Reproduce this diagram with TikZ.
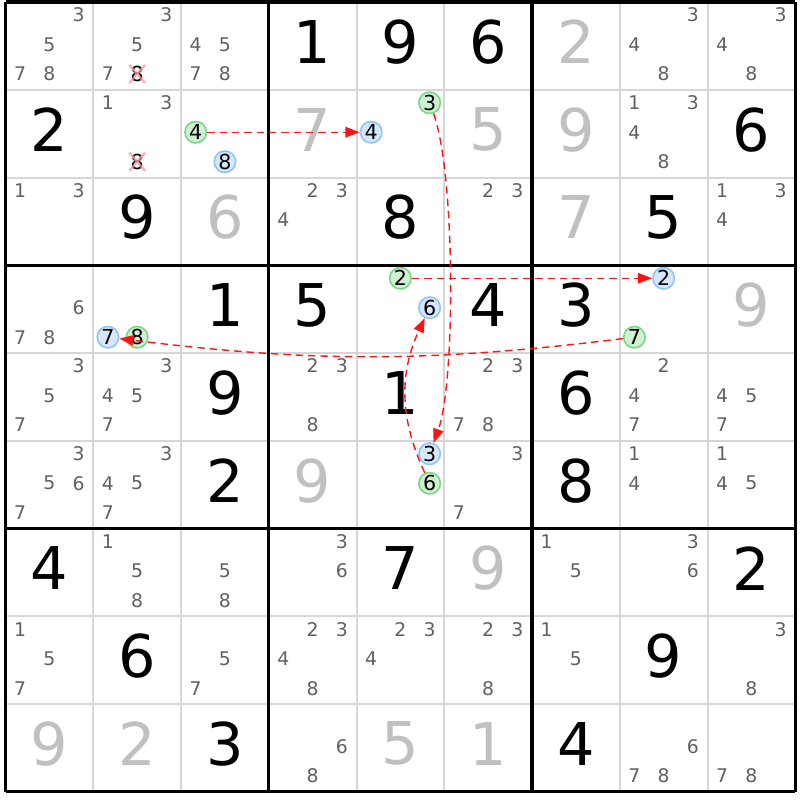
\documentclass[tikz,border=0pt]{standalone}
\usepackage{fontspec}
\setmainfont{DejaVu Sans}
\usetikzlibrary{arrows.meta}
\definecolor{candgray}{RGB}{96,96,96}
\definecolor{solvedgray}{RGB}{192,192,192}
\definecolor{thingray}{RGB}{214,214,214}
\definecolor{greenfill}{RGB}{208,240,210}
\definecolor{greenline}{RGB}{118,214,132}
\definecolor{bluefill}{RGB}{212,231,252}
\definecolor{blueline}{RGB}{140,196,246}
\definecolor{crossred}{RGB}{244,150,165}
\definecolor{linkred}{RGB}{250,20,20}
\tikzset{
	clue/.style     = {inner sep=0pt, font=\fontsize{19.1}{20}\selectfont},
	solved/.style   = {clue, text=solvedgray},
	cand/.style     = {inner sep=0pt, text=candgray, font=\fontsize{6.1}{7}\selectfont},
	oncand/.style   = {circle, inner sep=0pt, minimum size=0.245cm, draw=greenline,
		fill=greenfill, line width=0.5pt, font=\fontsize{6.7}{7}\selectfont},
	offcand/.style  = {oncand, draw=blueline, fill=bluefill},
	elim/.style     = {inner sep=0.2pt, font=\fontsize{6.7}{7}\selectfont},
	crossline/.style= {draw=crossred, line width=0.75pt, opacity=0.8},
	link/.style     = {draw=linkred, line width=0.45pt, dash pattern=on 2.4pt off 1.6pt,
		-{Triangle[length=4.6pt,width=3.4pt]}},
	thinline/.style = {draw=thingray, line width=0.65pt},
	boxline/.style  = {draw=black, line width=1pt}
}
% position of candidate #3 in cell (#1,#2)
\newcommand{\candpos}[3]{%
	\pgfmathsetmacro{\px}{#2-0.5+(mod(#3-1,3)-1)*0.333}%
	\pgfmathsetmacro{\py}{-(#1-0.5)-(floor((#3-1)/3)-1)*0.336+0.016}}
\newcommand{\pencilmark}[4]{\candpos{#2}{#3}{#4}\node[#1] (p#2#3#4) at (\px,\py) {#4};}
\newcommand{\pencil}[3]{\foreach \dig in {#3}{\pencilmark{cand}{#1}{#2}{\dig}}}
\newcommand{\clue}[3]{\node[clue] (d#1#2) at (#2-0.5,0.545-#1) {#3};}
\newcommand{\solved}[3]{\node[solved] (d#1#2) at (#2-0.5,0.545-#1) {#3};}
\newcommand{\strike}[1]{\draw[crossline] (#1.south west) -- (#1.north east) (#1.north west) -- (#1.south east);}

\begin{document}
\begin{tikzpicture}
	\useasboundingbox (-0.063,0.023) rectangle (9.054,-9.094);
	
	\foreach \i in {1,2,4,5,7,8}{
		\draw[thinline] (\i,0) -- (\i,-9);
		\draw[thinline] (0,-\i) -- (9,-\i);
	}
	
	% row 1
	\pencil{1}{1}{3,5,7,8}
	\pencil{1}{2}{3,5,7}
	\pencilmark{elim}{1}{2}{8}
	\pencil{1}{3}{4,5,7,8}
	\clue{1}{4}{1}
	\clue{1}{5}{9}
	\clue{1}{6}{6}
	\solved{1}{7}{2}
	\pencil{1}{8}{3,4,8}
	\pencil{1}{9}{3,4,8}
	% row 2
	\clue{2}{1}{2}
	\pencil{2}{2}{1,3}
	\pencilmark{elim}{2}{2}{8}
	\pencilmark{oncand}{2}{3}{4}
	\pencilmark{offcand}{2}{3}{8}
	\solved{2}{4}{7}
	\pencilmark{oncand}{2}{5}{3}
	\pencilmark{offcand}{2}{5}{4}
	\solved{2}{6}{5}
	\solved{2}{7}{9}
	\pencil{2}{8}{1,3,4,8}
	\clue{2}{9}{6}
	% row 3
	\pencil{3}{1}{1,3}
	\clue{3}{2}{9}
	\solved{3}{3}{6}
	\pencil{3}{4}{2,3,4}
	\clue{3}{5}{8}
	\pencil{3}{6}{2,3}
	\solved{3}{7}{7}
	\clue{3}{8}{5}
	\pencil{3}{9}{1,3,4}
	% row 4
	\pencil{4}{1}{6,7,8}
	\pencilmark{offcand}{4}{2}{7}
	\pencilmark{oncand}{4}{2}{8}
	\clue{4}{3}{1}
	\clue{4}{4}{5}
	\pencilmark{oncand}{4}{5}{2}
	\pencilmark{offcand}{4}{5}{6}
	\clue{4}{6}{4}
	\clue{4}{7}{3}
	\pencilmark{offcand}{4}{8}{2}
	\pencilmark{oncand}{4}{8}{7}
	\solved{4}{9}{9}
	% row 5
	\pencil{5}{1}{3,5,7}
	\pencil{5}{2}{3,4,5,7}
	\clue{5}{3}{9}
	\pencil{5}{4}{2,3,8}
	\clue{5}{5}{1}
	\pencil{5}{6}{2,3,7,8}
	\clue{5}{7}{6}
	\pencil{5}{8}{2,4,7}
	\pencil{5}{9}{4,5,7}
	% row 6
	\pencil{6}{1}{3,5,6,7}
	\pencil{6}{2}{3,4,5,7}
	\clue{6}{3}{2}
	\solved{6}{4}{9}
	\pencilmark{offcand}{6}{5}{3}
	\pencilmark{oncand}{6}{5}{6}
	\pencil{6}{6}{3,7}
	\clue{6}{7}{8}
	\pencil{6}{8}{1,4}
	\pencil{6}{9}{1,4,5}
	% row 7
	\clue{7}{1}{4}
	\pencil{7}{2}{1,5,8}
	\pencil{7}{3}{5,8}
	\pencil{7}{4}{3,6}
	\clue{7}{5}{7}
	\solved{7}{6}{9}
	\pencil{7}{7}{1,5}
	\pencil{7}{8}{3,6}
	\clue{7}{9}{2}
	% row 8
	\pencil{8}{1}{1,5,7}
	\clue{8}{2}{6}
	\pencil{8}{3}{5,7}
	\pencil{8}{4}{2,3,4,8}
	\pencil{8}{5}{2,3,4}
	\pencil{8}{6}{2,3,8}
	\pencil{8}{7}{1,5}
	\clue{8}{8}{9}
	\pencil{8}{9}{3,8}
	% row 9
	\solved{9}{1}{9}
	\solved{9}{2}{2}
	\clue{9}{3}{3}
	\pencil{9}{4}{6,8}
	\solved{9}{5}{5}
	\solved{9}{6}{1}
	\clue{9}{7}{4}
	\pencil{9}{8}{6,7,8}
	\pencil{9}{9}{7,8}
	
	\foreach \i in {0,3,6,9}{
		\draw[boxline] (\i,0) -- (\i,-9);
		\draw[boxline] (0,-\i) -- (9,-\i);
	}
	
	% eliminated 8s
	\strike{p128}
	\strike{p228}
	
	% chain
	\draw[link] (p234) -- (p254);
	\draw[link] (p253) to[out=-70,in=70,looseness=0.5] (p653);
	\draw[link] (p452) -- (p482);
	\draw[link] (p487) to[bend left=7] (p427);
	\draw[link] (p656) to[bend left=25] (p456);
	
\end{tikzpicture}
\end{document}
